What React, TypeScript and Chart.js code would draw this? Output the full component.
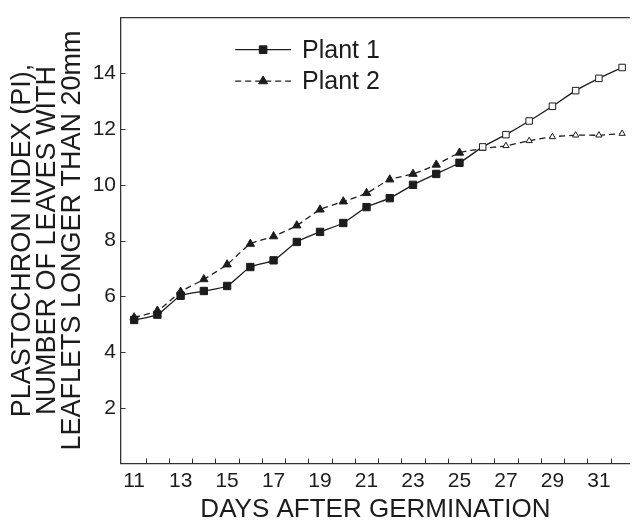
import React, { useEffect, useRef } from 'react';
import { Chart, registerables } from 'chart.js';

Chart.register(...registerables);

// ---- data ----
const days = [11, 12, 13, 14, 15, 16, 17, 18, 19, 20, 21, 22, 23, 24, 25, 26, 27, 28, 29, 30, 31, 32];
const plant1 = [5.15, 5.34, 6.02, 6.19, 6.37, 7.05, 7.29, 7.95, 8.31, 8.63, 9.2, 9.52, 10.0, 10.39, 10.79, 11.36, 11.8, 12.29, 12.82, 13.38, 13.82, 14.21];
const plant2 = [5.24, 5.48, 6.16, 6.61, 7.14, 7.88, 8.15, 8.54, 9.11, 9.4, 9.7, 10.19, 10.39, 10.72, 11.15, 11.3, 11.4, 11.58, 11.72, 11.78, 11.78, 11.84];
const seriesNames = ['Plant 1', 'Plant 2'];
const xTickLabels = [11, 13, 15, 17, 19, 21, 23, 25, 27, 29, 31];
const yTickLabels = [2, 4, 6, 8, 10, 12, 14];
const xTickMarks = [11.5, 12.5, 13.5, 14.5, 15.5, 16.5, 17.5, 18.5, 19.5, 20.5, 21.5, 22.5, 23.5, 24.5, 25.5, 26.5, 27.5, 28.5, 29.5, 30.5, 31.5];
const lastFilledDay = 25;
const xTitle = 'DAYS AFTER GERMINATION';
const yTitle = ['PLASTOCHRON INDEX (PI),', 'NUMBER OF LEAVES WITH', 'LEAFLETS LONGER THAN 20mm'];

const FONT = '"Liberation Sans", Arial, Helvetica, sans-serif';
const INK = '#1c1c1c';
const AXIS = '#333333';

function drawMarker(ctx: CanvasRenderingContext2D, style: string, x: number, y: number, r: number, fill: string) {
  ctx.save();
  ctx.beginPath();
  if (style === 'rect') {
    const s = Math.SQRT1_2 * r;
    ctx.rect(x - s, y - s, 2 * s, 2 * s);
  } else {
    const h = r * 1.5;
    const half = (r * Math.sqrt(3)) / 2;
    ctx.moveTo(x, y - r);
    ctx.lineTo(x + half, y - r + h);
    ctx.lineTo(x - half, y - r + h);
    ctx.closePath();
  }
  ctx.fillStyle = fill;
  ctx.fill();
  ctx.lineWidth = 1;
  ctx.strokeStyle = INK;
  ctx.setLineDash([]);
  ctx.stroke();
  ctx.restore();
}

const framePlugin = {
  id: 'frameAndTicks',
  afterDraw(chart: any) {
    const { ctx, chartArea } = chart;
    const xs = chart.scales.x;
    const ys = chart.scales.y;
    ctx.save();
    ctx.strokeStyle = AXIS;
    ctx.lineWidth = 1.3;
    ctx.setLineDash([]);
    ctx.beginPath();
    ctx.moveTo(chartArea.left, chartArea.top);
    ctx.lineTo(chartArea.right, chartArea.top);
    ctx.stroke();
    ctx.lineWidth = 1;
    ctx.beginPath();
    xTickMarks.forEach((v) => {
      const px = Math.round(xs.getPixelForValue(v)) + 0.5;
      ctx.moveTo(px, chartArea.bottom);
      ctx.lineTo(px, chartArea.bottom - 5);
    });
    yTickLabels.forEach((v) => {
      const py = Math.round(ys.getPixelForValue(v)) + 0.5;
      ctx.moveTo(chartArea.left, py);
      ctx.lineTo(chartArea.left + 4.5, py);
    });
    ctx.stroke();
    ctx.restore();
  },
};

const legendPlugin = {
  id: 'lineLegend',
  afterDraw(chart: any) {
    const { ctx } = chart;
    const xs = chart.scales.x;
    const ys = chart.scales.y;
    const x0 = xs.getPixelForValue(15.35);
    const x1 = xs.getPixelForValue(17.75);
    const xm = (x0 + x1) / 2;
    const rows = [ys.getPixelForValue(14.85), ys.getPixelForValue(13.72)];
    chart.data.datasets.forEach((ds: any, i: number) => {
      const y = rows[i];
      ctx.save();
      ctx.strokeStyle = INK;
      ctx.lineWidth = ds.borderWidth;
      ctx.setLineDash(ds.borderDash || []);
      ctx.beginPath();
      ctx.moveTo(x0, y);
      ctx.lineTo(x1, y);
      ctx.stroke();
      ctx.restore();
      drawMarker(ctx, ds.pointStyle, xm, y, ds.pointStyle === 'rect' ? 5.4 : 5.2, INK);
      ctx.save();
      ctx.fillStyle = INK;
      ctx.font = `25px ${FONT}`;
      ctx.textAlign = 'left';
      ctx.textBaseline = 'middle';
      ctx.fillText(seriesNames[i], x1 + 11, y + 1);
      ctx.restore();
    });
  },
};

export default function App() {
  const ref = useRef<HTMLCanvasElement | null>(null);

  useEffect(() => {
    document.body.style.margin = '0';
    const canvas = ref.current;
    if (!canvas) return;
    Chart.defaults.font.family = FONT;
    Chart.defaults.color = INK;

    const fills = days.map((d) => (d <= lastFilledDay ? INK : '#ffffff'));

    const chart = new Chart(canvas, {
      type: 'line',
      data: {
        datasets: [
          {
            label: seriesNames[0],
            data: days.map((d, i) => ({ x: d, y: plant1[i] })),
            borderColor: INK,
            borderWidth: 1.3,
            tension: 0.2,
            pointStyle: 'rect',
            pointRadius: days.map((d) => (d <= lastFilledDay ? 5.2 : 4.6)),
            pointBackgroundColor: fills,
            pointBorderColor: INK,
            pointBorderWidth: 1,
            fill: false,
          },
          {
            label: seriesNames[1],
            data: days.map((d, i) => ({ x: d, y: plant2[i] })),
            borderColor: INK,
            borderWidth: 1.3,
            borderDash: [6, 4],
            tension: 0.2,
            pointStyle: 'triangle',
            pointRadius: days.map((d) => (d <= lastFilledDay ? 4.8 : 3.6)),
            pointBackgroundColor: fills,
            pointBorderColor: INK,
            pointBorderWidth: 1,
            fill: false,
          },
        ],
      },
      options: {
        responsive: false,
        animation: false,
        layout: { padding: { top: 14.5, left: 0, right: 0, bottom: 0 } },
        plugins: { legend: { display: false }, tooltip: { enabled: false } },
        scales: {
          x: {
            type: 'linear',
            min: 10.434,
            max: 32.33,
            grid: { display: false, drawTicks: false },
            border: { display: true, color: AXIS, width: 1.3 },
            ticks: {
              color: INK,
              font: { size: 21 },
              padding: 5,
              autoSkip: false,
              maxRotation: 0,
              callback: (v: any) => String(v),
            },
            afterBuildTicks: (s: any) => {
              s.ticks = xTickLabels.map((v) => ({ value: v }));
            },
            afterFit: (s: any) => {
              s.height = 59.5;
            },
            title: {
              display: true,
              text: xTitle,
              color: INK,
              font: { size: 26, lineHeight: 1 },
              padding: { top: 0, bottom: 0 },
            },
          },
          y: {
            type: 'linear',
            min: 0,
            max: 16,
            grid: { display: false, drawTicks: false },
            border: { display: true, color: AXIS, width: 1.3 },
            ticks: {
              color: INK,
              font: { size: 21 },
              padding: 5,
              callback: (v: any) => String(v),
            },
            afterBuildTicks: (s: any) => {
              s.ticks = yTickLabels.map((v) => ({ value: v }));
            },
            afterFit: (s: any) => {
              s.width = 121;
            },
            title: {
              display: true,
              text: yTitle,
              color: INK,
              font: { size: 27, lineHeight: 0.93 },
              padding: { top: 9.5, bottom: 0 },
            },
          },
        },
      },
      plugins: [framePlugin, legendPlugin],
    });

    return () => {
      chart.destroy();
    };
  }, []);

  return (
    <div style={{ width: 636, height: 523 }}>
      <canvas ref={ref} width={636} height={523} style={{ display: 'block' }} />
    </div>
  );
}
